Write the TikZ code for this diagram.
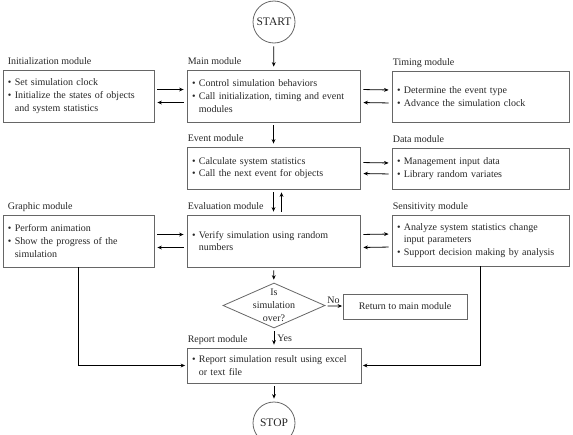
\documentclass[tikz,border=0pt]{standalone}
\usepackage{fontspec}
\setmainfont{Liberation Serif}
\usetikzlibrary{arrows.meta,shapes.geometric}
\newcommand{\bul}{\textbullet~}
\newcommand{\indbul}{\phantom{\textbullet~}}

\begin{document}
\begin{tikzpicture}[x=1pt, y=-1pt, >={Stealth[length=4.5pt,width=3.8pt]},
	font=\fontsize{10pt}{12.8pt}\selectfont, text=black!85,
	box/.style={draw=black!60, line width=0.8pt, align=left, inner xsep=5pt, inner ysep=0pt,
		execute at begin node={\hyphenpenalty=10000}},
	term/.style={circle, draw=black!60, line width=0.8pt, minimum size=42pt, inner sep=0pt, font=\fontsize{11.5pt}{13pt}\selectfont},
	dec/.style={diamond, draw=black!60, line width=0.8pt, minimum width=102pt, minimum height=45pt, inner sep=0pt},
	lab/.style={anchor=base west, inner sep=0pt},
	arr/.style={->, line width=0.8pt, shorten <=3pt, shorten >=3pt},
	link/.style={->, line width=1pt, shorten >=1.5pt}]
	
	% 0. Khung hình
	\useasboundingbox (0,0) rectangle (573,434);
	
	% 1. Bắt đầu và các khối chính
	\node[term] (start) at (274,22) {START};
	\node[box, text width=141pt, minimum height=52pt] (init) at (78.5,96)
	{\bul Set simulation clock\\\bul Initialize the states of objects\\\indbul and system statistics};
	\node[box, text width=163pt, minimum height=52pt] (main) at (273.5,96)
	{\bul Control simulation behaviors\\\bul Call initialization, timing and event\\\indbul modules};
	\node[box, text width=167pt, minimum height=51pt] (timing) at (480.5,96.5)
	{\bul Determine the event type\\\bul Advance the simulation clock};
	\node[box, text width=163pt, minimum height=42pt] (event) at (273.5,168)
	{\bul Calculate system statistics\\\bul Call the next event for objects};
	\node[box, text width=167pt, minimum height=41pt] (data) at (480.5,168.5)
	{\bul Management input data\\\bul Library random variates};
	\node[box, text width=141pt, minimum height=52pt] (graphic) at (78.5,241)
	{\bul Perform animation\\\bul Show the progress of the\\\indbul simulation};
	\node[box, text width=163pt, minimum height=52pt] (eval) at (273.5,241)
	{\bul Verify simulation using random\\\indbul numbers};
	\node[box, text width=167pt, minimum height=51pt] (sens) at (480.5,240.5)
	{\bul Analyze system statistics change\\\indbul input parameters\\\bul Support decision making by analysis};
	
	% 2. Quyết định, báo cáo và kết thúc
	\node[dec] (dec) at (274,305.5) {};
	\node[align=center, inner sep=0pt] (dectxt) at (dec.center) {Is\\simulation\\over?};
	\node[box, align=center, inner xsep=0pt, minimum width=124pt, minimum height=25pt] (ret) at (405,306.5) {Return to main module};
	\node[box, text width=164pt, minimum height=35pt] (report) at (274,365.5)
	{\bul Report simulation result using excel\\\indbul or text file};
	\node[term] (stop) at (274,423) {STOP};
	
	% 3. Tên các mô-đun
	\foreach \n/\t/\s in {init/Initialization module/5, main/Main module/1, timing/Timing module/1,
		event/Event module/1, data/Data module/1, graphic/Graphic module/5,
		eval/Evaluation module/1, sens/Sensitivity module/1, report/Report module/1}
	\node[lab] (\n lab) at ([xshift=\s pt, yshift=5pt]\n.north west) {\t};
	
	% 4. Mũi tên hai chiều giữa các khối
	\foreach \a/\b/\d in {init/main/6.5, main/timing/6.5, event/data/5.5, graphic/eval/6.5, eval/sens/6.5}{
		\draw[arr] ([yshift=\d pt]\a.east) -- ([yshift=\d pt]\b.west);
		\draw[arr] ([yshift=-\d pt]\b.west) -- ([yshift=-\d pt]\a.east);
	}
	
	% 5. Mũi tên theo chiều dọc
	\draw[arr] (start) -- (main);
	\draw[arr] (main) -- (event);
	\draw[arr] (event) -- (eval);
	\draw[arr] ([xshift=8pt]eval.north) -- ([xshift=8pt]event.south);
	\draw[arr] (eval) -- (dec);
	\draw[arr] (dec) -- node[midway, right, inner sep=3pt] (yes) {Yes} (report);
	\draw[arr, shorten >=0.5pt] (dec) -- node[midway, above, inner sep=2pt] (no) {No} (ret);
	\draw[arr] (report) -- (stop);
	
	% 6. Đường nối về khối báo cáo
	\draw[link] (graphic.south) |- (report.west);
	\draw[link] (sens.south) |- (report.east);
	
\end{tikzpicture}
\end{document}
